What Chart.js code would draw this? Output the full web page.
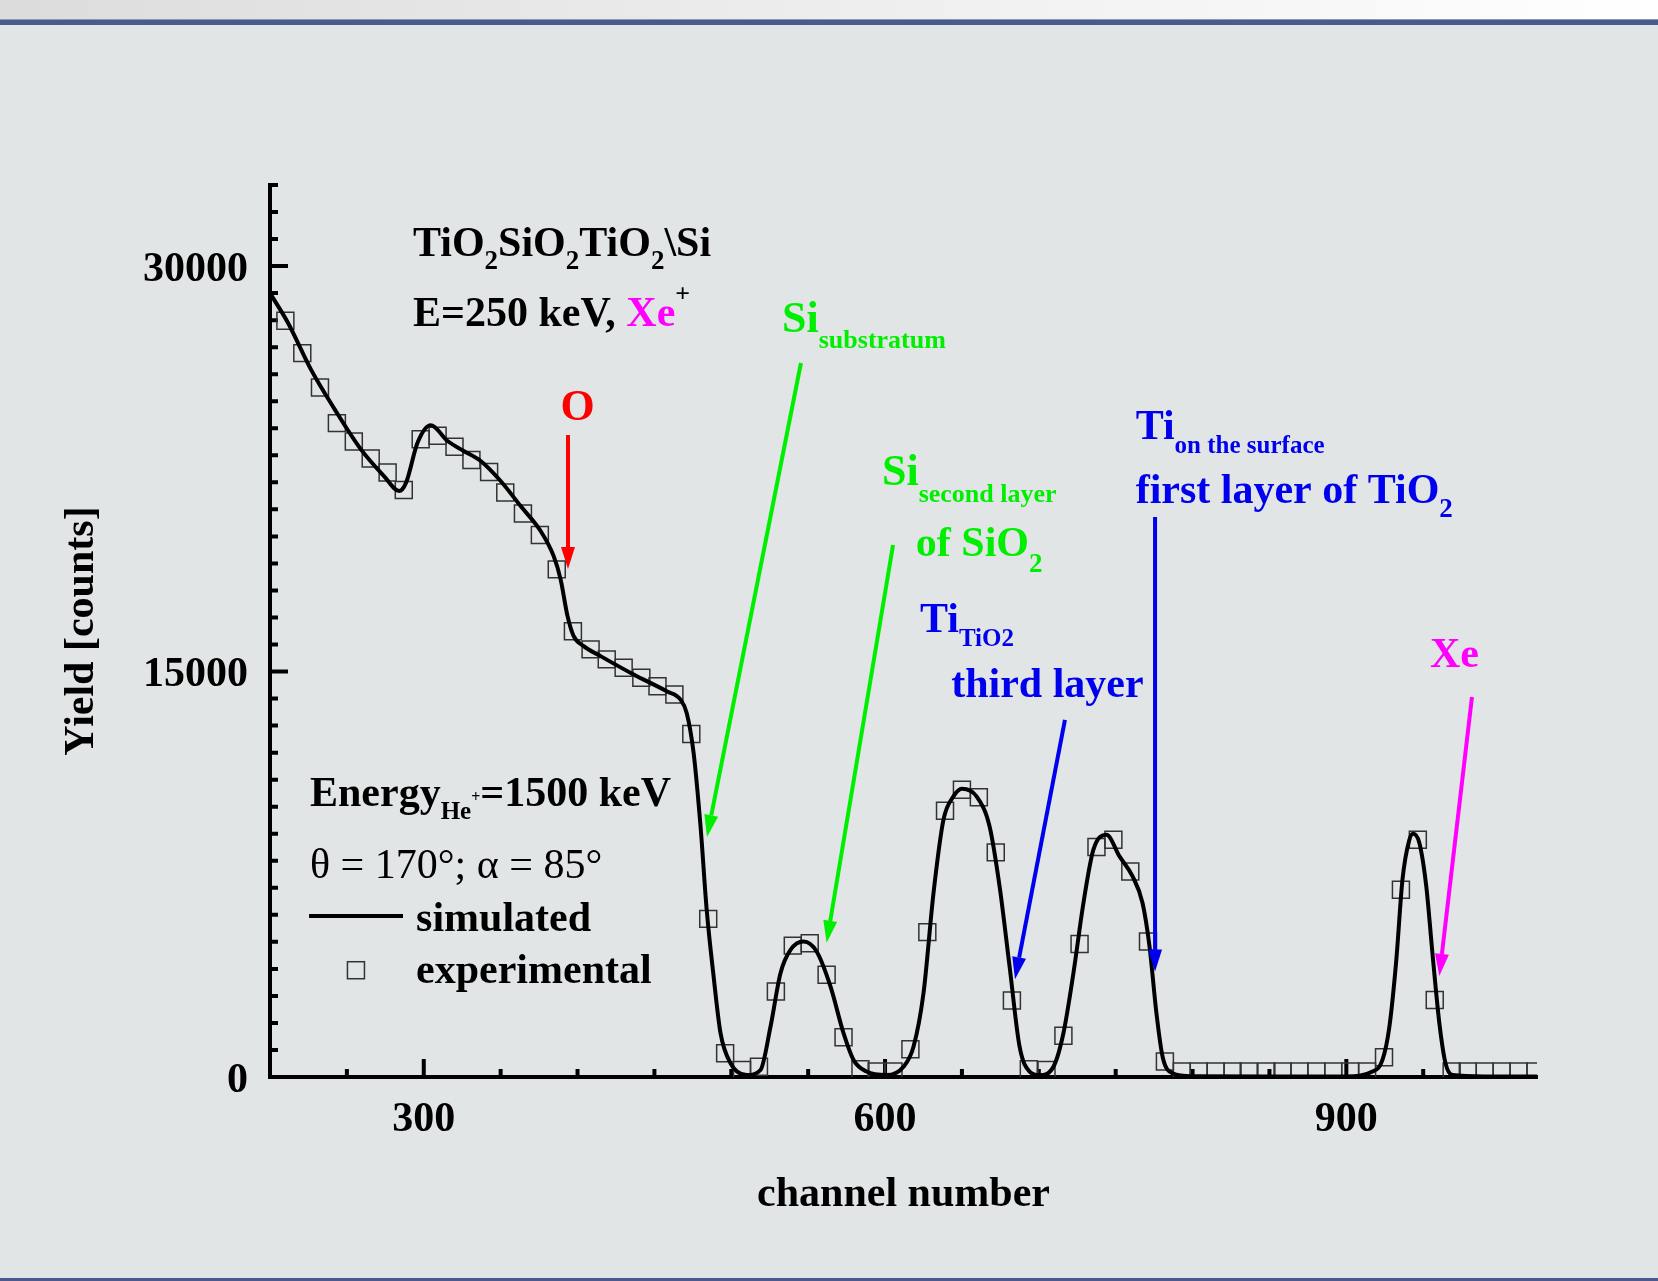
<!DOCTYPE html>
<html>
<head>
<meta charset="utf-8">
<script src="https://cdn.jsdelivr.net/npm/chart.js@4/dist/chart.umd.min.js"></script>
<style>
  html, body { margin: 0; padding: 0; }
  body { width: 1658px; height: 1281px; background: #e1e5e6; position: relative; overflow: hidden; }
  #top { position: absolute; left: 0; top: 0; width: 1658px; height: 19px; background: linear-gradient(to right, #dcdcdc, #ffffff); }
  #bar { position: absolute; left: 0; top: 19px; width: 1658px; height: 6px; background: #4a5a8c; border-top: 1px solid #8d97b3; box-sizing: border-box; }
  #bottom { position: absolute; left: 0; top: 1278px; width: 1658px; height: 3px; background: #4a5a8c; }
  canvas { position: absolute; left: 0; top: 0; }
</style>
</head>
<body>
<div id="top"></div><div id="bar"></div><div id="bottom"></div>
<canvas id="chart" width="1658" height="1281"></canvas>
<script>
// simulated spectrum
const simChannel = [200, 211.5, 226.5, 242, 259, 274, 284, 288.5, 296, 304.5, 315.5, 326, 337, 350, 363, 376, 384.5,
  389, 393.5, 397.5, 404, 415, 436.5, 458, 467, 471, 475.5, 480, 484, 488.5, 493, 499.5, 510, 519, 525.5, 532,
  538.5, 547, 555.5, 564.5, 573, 579.5, 588, 601, 612, 618.5, 625, 631.5, 638, 644.5, 650, 659.5, 668, 674.5,
  681, 687.5, 694, 700.5, 709.5, 716, 722.5, 729, 735.5, 744, 752.5, 761, 767.5, 772, 776.5, 780.5, 787, 800,
  850, 900, 917, 923.5, 928, 932.5, 936.5, 941, 943.5, 947.5, 952, 956, 960.5, 964.5, 969, 990, 1024];
const simYield = [29000, 27920, 26190, 24710, 23230, 22240, 21680, 21990, 23470, 24110, 23530, 23160, 22790, 22050, 21120, 20200, 19270,
  18410, 17050, 16310, 15940, 15570, 14890, 14270, 13960, 13470, 11990, 9270, 6190, 3720, 1620, 510, 70, 260, 1860, 3840,
  4700, 5010, 4640, 3350, 1620, 630, 200, 70, 380, 1120, 3100, 6800, 9520, 10380, 10660, 10380, 9270, 7050,
  4090, 1120, 200, 70, 380, 1620, 3840, 6430, 8410, 8960, 8160, 7420, 6430, 4830, 2360, 750, 140, 30,
  20, 20, 200, 630, 1860, 4330, 7300, 8780, 9000, 8660, 7050, 4580, 1990, 510, 70, 20, 20];

// experimental points (squares)
const expChannel = [210, 221, 232.5, 243.5, 254.5, 265.5, 276.5, 287, 298, 309, 320, 331, 342.5, 353, 364.5, 375.5,
  386.5, 397, 408.5, 419, 430, 441.5, 452, 463, 474, 485, 496, 507, 518, 529, 540, 551, 562, 573, 584, 594.5,
  605.5, 616.5, 627.5, 639, 650, 661, 672, 682.5, 693.5, 705, 716, 726.5, 737.5, 748.5, 759.5, 771, 782, 793,
  804, 815, 826, 836.5, 848, 858.5, 869.5, 880.5, 891.5, 902.5, 913.5, 924.5, 935.5, 946.5, 957.5, 968.5, 979,
  990, 1001, 1012, 1023];
const expYield = [27980, 26780, 25510, 24190, 23510, 22880, 22360, 21720, 23590, 23720, 23320, 22830, 22380, 21620, 20850, 20050,
  18780, 16490, 15820, 15450, 15140, 14770, 14460, 14150, 12690, 5850, 880, 260, 380, 3160, 4860, 4950, 3780, 1470, 290, 200,
  200, 1030, 5360, 9850, 10630, 10350, 8310, 2830, 290, 260, 1530, 4920, 8510, 8780, 7600, 5010, 570, 200,
  200, 200, 200, 200, 200, 200, 200, 200, 200, 200, 200, 730, 6930, 8780, 2850, 200, 200,
  200, 200, 200, 200];

const xTickLabels = [300, 600, 900];
const yTickLabels = [0, 15000, 30000];

const K = '#000000', G = '#00ee00', B = '#0000ee', M = '#ff00ff', R = '#ff0000';
const FONT = '"Liberation Serif", "Times New Roman", serif';

// text notes, anchored in data coordinates (channel, counts)
const notes = [
  { at: [293, 30370], parts: [{t: 'TiO', s: 42}, {t: '2', s: 27, dy: 13}, {t: 'SiO', s: 42}, {t: '2', s: 27, dy: 13},
      {t: 'TiO', s: 42}, {t: '2', s: 27, dy: 13}, {t: '\\Si', s: 42}] },
  { at: [293, 27780], parts: [{t: 'E=250 keV, ', s: 42}, {t: 'Xe', s: 42, c: M}, {t: '+', s: 26, dy: -24}] },
  { at: [389, 24300], parts: [{t: 'O', s: 44, c: R}] },
  { at: [533, 27560], parts: [{t: 'Si', s: 44, c: G}, {t: 'substratum', s: 26, dy: 16, c: G}] },
  { at: [598, 21900], parts: [{t: 'Si', s: 44, c: G}, {t: 'second layer', s: 26, dy: 17, c: G}] },
  { at: [620, 19275], parts: [{t: 'of SiO', s: 42, c: G}, {t: '2', s: 27, dy: 16, c: G}] },
  { at: [622.7, 16460], parts: [{t: 'Ti', s: 42, c: B}, {t: 'TiO2', s: 25, dy: 14, c: B}] },
  { at: [643, 14060], parts: [{t: 'third layer', s: 42, c: B}] },
  { at: [763, 23600], parts: [{t: 'Ti', s: 42, c: B}, {t: 'on the surface', s: 25, dy: 14, c: B}] },
  { at: [763, 21236], parts: [{t: 'first layer of TiO', s: 42, c: B}, {t: '2', s: 27, dy: 14, c: B}] },
  { at: [954.4, 15170], parts: [{t: 'Xe', s: 42, c: M}] },
  { at: [226, 10030], parts: [{t: 'Energy', s: 42}, {t: 'He', s: 25, dy: 13}, {t: '+', s: 16, dy: -4}, {t: '=1500 keV', s: 42}] },
  { at: [226, 7360], parts: [{t: 'θ = 170°; α = 85°', s: 42, w: 'normal'}] },
  { at: [295, 5400], parts: [{t: 'simulated', s: 42}] },
  { at: [295, 3480], parts: [{t: 'experimental', s: 42}] }
];

const arrows = [
  { from: [393.8, 23750], to: [393.8, 18790], c: R },
  { from: [545.3, 26415], to: [484.2, 8880], c: G },
  { from: [605.2, 19680], to: [562, 4970], c: G },
  { from: [717, 13210], to: [684.5, 3620], c: B },
  { from: [775.6, 20720], to: [775.6, 3900], c: B },
  { from: [981.7, 14060], to: [960.5, 3740], c: M }
];

function drawArrow(ctx, x1, y1, x2, y2, color) {
  const ang = Math.atan2(y2 - y1, x2 - x1), L = 22, W = 7;
  const bx = x2 - L * Math.cos(ang), by = y2 - L * Math.sin(ang);
  ctx.strokeStyle = color;
  ctx.lineWidth = 4;
  ctx.beginPath(); ctx.moveTo(x1, y1); ctx.lineTo(bx, by); ctx.stroke();
  ctx.fillStyle = color;
  ctx.beginPath();
  ctx.moveTo(x2, y2);
  ctx.lineTo(bx + W * Math.sin(ang), by - W * Math.cos(ang));
  ctx.lineTo(bx - W * Math.sin(ang), by + W * Math.cos(ang));
  ctx.closePath(); ctx.fill();
}

const decor = {
  id: 'decor',
  beforeDatasetsDraw(chart) {
    // ticks pointing into the plot
    const {ctx, chartArea: a} = chart;
    const xs = chart.scales.x, ys = chart.scales.y;
    ctx.save();
    ctx.strokeStyle = '#000';
    ctx.lineWidth = 4;
    ctx.beginPath();
    xs.ticks.forEach(t => {
      if (t.value % 50 !== 0 || t.value <= xs.min) return;
      const px = xs.getPixelForValue(t.value);
      const len = t.value % 300 === 0 ? 18 : 8;
      ctx.moveTo(px, a.bottom); ctx.lineTo(px, a.bottom - len);
    });
    ys.ticks.forEach(t => {
      if (t.value <= 0) return;
      const py = ys.getPixelForValue(t.value);
      const len = t.value % 15000 === 0 ? 18 : 8;
      ctx.moveTo(a.left, py); ctx.lineTo(a.left + len, py);
    });
    ctx.stroke();
    ctx.restore();
  },
  afterDraw(chart) {
    const ctx = chart.ctx;
    const xs = chart.scales.x, ys = chart.scales.y;
    const X = v => xs.getPixelForValue(v), Y = v => ys.getPixelForValue(v);
    ctx.save();
    arrows.forEach(ar => drawArrow(ctx, X(ar.from[0]), Y(ar.from[1]), X(ar.to[0]), Y(ar.to[1]), ar.c));

    ctx.textAlign = 'left';
    ctx.textBaseline = 'alphabetic';
    notes.forEach(n => {
      let x = X(n.at[0]);
      const y = Y(n.at[1]);
      n.parts.forEach(p => {
        ctx.font = (p.w || 'bold') + ' ' + p.s + 'px ' + FONT;
        ctx.fillStyle = p.c || K;
        ctx.fillText(p.t, x, y + (p.dy || 0));
        x += ctx.measureText(p.t).width;
      });
    });

    // legend samples
    ctx.strokeStyle = '#000';
    ctx.lineWidth = 4;
    ctx.beginPath();
    ctx.moveTo(X(225.4), Y(5956)); ctx.lineTo(X(286.5), Y(5956));
    ctx.stroke();
    ctx.strokeStyle = '#333';
    ctx.lineWidth = 1.5;
    ctx.strokeRect(X(255.9) - 8.5, Y(3950) - 8.5, 17, 17);
    ctx.restore();
  }
};

const tickFont = { family: FONT, size: 42, weight: 'bold' };

new Chart(document.getElementById('chart'), {
  type: 'scatter',
  data: {
    datasets: [
      {
        label: 'simulated',
        data: simChannel.map((x, i) => ({ x: x, y: simYield[i] })),
        showLine: true,
        borderColor: '#000',
        borderWidth: 4,
        pointRadius: 0,
        cubicInterpolationMode: 'monotone',
        fill: false
      },
      {
        label: 'experimental',
        data: expChannel.map((x, i) => ({ x: x, y: expYield[i] })),
        showLine: false,
        pointStyle: 'rect',
        pointRadius: 12,
        borderColor: '#333',
        borderWidth: 1.5,
        backgroundColor: 'rgba(0,0,0,0)'
      }
    ]
  },
  options: {
    responsive: false,
    animation: false,
    devicePixelRatio: 1,
    layout: { padding: { top: 185, right: 121, left: 0, bottom: 0 } },
    plugins: {
      legend: { display: false },
      tooltip: { enabled: false }
    },
    scales: {
      x: {
        type: 'linear',
        min: 200,
        max: 1024,
        grid: { drawOnChartArea: false, drawTicks: false },
        border: { color: '#000', width: 4 },
        ticks: {
          stepSize: 50,
          autoSkip: false,
          maxRotation: 0,
          padding: 18,
          color: '#000',
          font: tickFont,
          callback: v => xTickLabels.includes(v) ? String(v) : ''
        },
        title: {
          display: true,
          text: 'channel number',
          color: '#000',
          font: tickFont,
          padding: { top: 0, bottom: 61 }
        },
        afterFit: s => { s.height = 204; }
      },
      y: {
        min: 0,
        max: 33000,
        grid: { drawOnChartArea: false, drawTicks: false },
        border: { color: '#000', width: 4 },
        ticks: {
          stepSize: 1000,
          autoSkip: false,
          padding: 22,
          labelOffset: 4,
          color: '#000',
          font: tickFont,
          callback: v => yTickLabels.includes(v) ? String(v) : ''
        },
        title: {
          display: true,
          text: 'Yield [counts]',
          color: '#000',
          font: tickFont,
          padding: { top: 57, bottom: 0 }
        },
        afterFit: s => { s.width = 270; }
      }
    }
  },
  plugins: [decor]
});
</script>
</body>
</html>
